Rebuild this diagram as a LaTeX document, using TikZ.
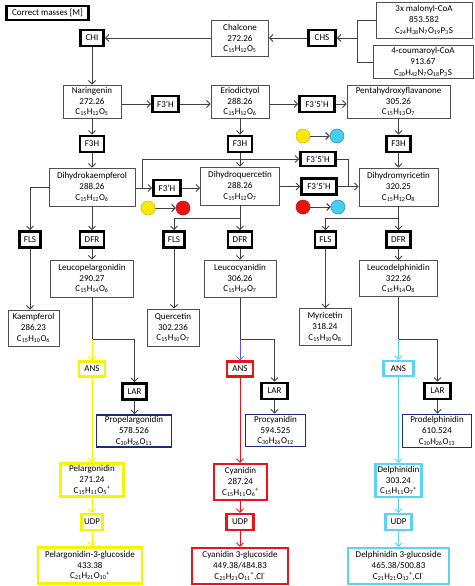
\documentclass[tikz,border=0pt]{standalone}
\usepackage{fontspec}
\setmainfont{Carlito}
\usetikzlibrary{arrows.meta}
\newcommand{\sbs}[1]{\textsubscript{#1}}
\newcommand{\sps}[1]{\textsuperscript{#1}}
\newcommand{\dfont}{\fontsize{9}{10.8}\selectfont}
\definecolor{linegray}{HTML}{404040}
\definecolor{boxgray}{HTML}{505050}
\definecolor{yel}{HTML}{F5F500}
\definecolor{redc}{HTML}{E8141B}
\definecolor{cyanc}{HTML}{5BD3F5}
\definecolor{navy}{HTML}{1C2A80}
\definecolor{purp}{HTML}{6A4CFF}
\definecolor{cyel}{HTML}{FFE800}
\definecolor{cred}{HTML}{EE1010}
\definecolor{ccyan}{HTML}{45CDF2}
\begin{document}
\begin{tikzpicture}[x=1pt,y=-1pt,
  mol/.style={draw=boxgray, line width=0.9pt, fill=white, align=center, inner sep=1pt, font=\dfont, minimum height=36pt},
  enz/.style={draw=black, line width=2.6pt, fill=white, align=center, inner sep=1pt, font=\dfont, minimum height=16pt},
  cenz/.style={line width=2.4pt, fill=white, align=center, inner sep=1pt, font=\dfont, minimum height=15pt},
  cmol/.style={line width=2.4pt, fill=white, align=center, inner sep=1pt, font=\dfont, minimum height=35pt},
  arr/.style={draw=linegray, line width=0.9pt, -{Straight Barb[length=3.5pt,width=7pt]}},
  ln/.style={draw=linegray, line width=0.9pt},
  dot/.style={circle, minimum size=14pt, inner sep=0pt, line width=0.5pt}]
\useasboundingbox (0,0) rectangle (474,586);

% header
\node[enz, minimum width=82pt, minimum height=14pt] (cm) at (47.5,13) {Correct masses [M]};

% top row
\node[enz, minimum width=23pt] (chi) at (92,38) {CHI};
\node[mol, minimum width=57pt] (chal) at (240,38.5) {Chalcone\\272.26\\C\sbs{15}H\sbs{12}O\sbs{5}};
\node[enz, minimum width=27pt] (chs) at (322,38) {CHS};
\node[mol, minimum width=96pt] (mal) at (424,20) {3x malonyl-CoA\\853.582\\C\sbs{24}H\sbs{38}N\sbs{7}O\sbs{19}P\sbs{3}S};
\node[mol, minimum width=100pt, minimum height=33pt] (cou) at (423,62) {4-coumaroyl-CoA\\913.67\\C\sbs{30}H\sbs{42}N\sbs{7}O\sbs{18}P\sbs{3}S};

% row 1
\node[mol, minimum width=58pt, minimum height=33pt] (nar) at (92,101.5) {Naringenin\\272.26\\C\sbs{15}H\sbs{12}O\sbs{5}};
\node[enz, minimum width=26pt] (fa) at (165.5,104) {F3’H};
\node[mol, minimum width=58pt, minimum height=33pt] (eri) at (240,101.5) {Eriodictyol\\288.26\\C\sbs{15}H\sbs{12}O\sbs{6}};
\node[enz, minimum width=35pt] (fb) at (317,104) {F3’5’H};
\node[mol, minimum width=103pt, minimum height=33pt] (pen) at (398.5,101.5) {Pentahydroxyflavanone\\305.26\\C\sbs{15}H\sbs{13}O\sbs{7}};

% row 2 enzymes
\node[enz, minimum width=24pt] (h1) at (92,144) {F3H};
\node[enz, minimum width=24pt] (h2) at (240,144) {F3H};
\node[enz, minimum width=24pt] (h3) at (398.5,144) {F3H};

% circles top
\node[dot, fill=cyel, draw=cyel!80!black] (y1) at (303,136) {};
\node[dot, fill=ccyan, draw=ccyan!70!black] (c1) at (337,136) {};

% row 2 molecules
\node[mol, minimum width=86pt, minimum height=38pt] (dhk) at (92,187) {Dihydrokaempferol\\288.26\\C\sbs{15}H\sbs{12}O\sbs{6}};
\node[enz, minimum width=27pt] (fc) at (167,188) {F3’H};
\node[mol, minimum width=79pt, minimum height=38pt] (dhq) at (240,186) {Dihydroquercetin\\288.26\\C\sbs{15}H\sbs{12}O\sbs{7}};
\node[enz, minimum width=35pt, minimum height=14pt] (fu) at (318,159) {F3’5’H};
\node[enz, minimum width=35pt] (fl) at (319,186.5) {F3’5’H};
\node[mol, minimum width=79pt, minimum height=38pt] (dhm) at (398.5,187) {Dihydromyricetin\\320.25\\C\sbs{15}H\sbs{12}O\sbs{8}};

% circles lower
\node[dot, fill=cyel, draw=cyel!80!black] (y2) at (148,208) {};
\node[dot, fill=cred, draw=cred!80!black] (r2) at (183,208) {};
\node[dot, fill=cred, draw=cred!80!black] (r3) at (303,207) {};
\node[dot, fill=ccyan, draw=ccyan!70!black] (c3) at (338,207) {};

% row 3 enzymes
\node[enz, minimum width=21pt] (fls1) at (30,239.5) {FLS};
\node[enz, minimum width=24pt] (dfr1) at (92,239.5) {DFR};
\node[enz, minimum width=21pt] (fls2) at (174,239.5) {FLS};
\node[enz, minimum width=24pt] (dfr2) at (240,239.5) {DFR};
\node[enz, minimum width=21pt] (fls3) at (325.5,239.5) {FLS};
\node[enz, minimum width=24pt] (dfr3) at (398.5,239.5) {DFR};

% row 4 molecules
\node[mol, minimum width=51pt] (kae) at (33.5,328) {Kaempferol\\286.23\\C\sbs{15}H\sbs{10}O\sbs{6}};
\node[mol, minimum width=83pt, minimum height=37pt] (lpe) at (92,278.5) {Leucopelargonidin\\290.27\\C\sbs{15}H\sbs{14}O\sbs{6}};
\node[mol, minimum width=52pt, minimum height=37pt] (que) at (173,327.5) {Quercetin\\302.236\\C\sbs{15}H\sbs{10}O\sbs{7}};
\node[mol, minimum width=72pt, minimum height=37pt] (lcy) at (240,278.5) {Leucocyanidin\\306.26\\C\sbs{15}H\sbs{14}O\sbs{7}};
\node[mol, minimum width=52pt, minimum height=37pt] (myr) at (325,327) {Myricetin\\318.24\\C\sbs{15}H\sbs{10}O\sbs{8}};
\node[mol, minimum width=78pt, minimum height=36pt] (lde) at (398.5,278.5) {Leucodelphinidin\\322.26\\C\sbs{15}H\sbs{14}O\sbs{8}};

% junctions
\coordinate (jA) at (92,339);
\coordinate (jB) at (240,339);
\coordinate (jC) at (398.5,339);

% lower left (yellow)
\node[cenz, draw=yel, minimum width=26pt] (ansA) at (92,369) {ANS};
\node[enz, minimum width=24pt] (larA) at (134.5,391.5) {LAR};
\node[cmol, draw=navy, line width=1.8pt, minimum width=75pt, minimum height=32pt] (pro1) at (134,431) {Propelargonidin\\578.526\\C\sbs{30}H\sbs{26}O\sbs{11}};
\node[cmol, draw=yel, minimum width=63pt, minimum height=33pt] (pel) at (92,480) {Pelargonidin\\271.24\\C\sbs{15}H\sbs{11}O\sbs{5}\sps{+}};
\node[cenz, draw=yel, minimum width=21pt, minimum height=16pt] (udpA) at (92,522) {UDP};
\node[cmol, draw=yel, minimum width=104pt, minimum height=36pt] (pg) at (90,565.5) {Pelargonidin-3-glucoside\\433.38\\C\sbs{21}H\sbs{21}O\sbs{10}\sps{+}};

% lower middle (red)
\node[cenz, draw=redc, minimum width=26pt] (ansB) at (240,369) {ANS};
\node[enz, minimum width=26pt] (larB) at (274.5,391) {LAR};
\node[cmol, draw=navy, line width=1.8pt, minimum width=60pt, minimum height=32pt] (pro2) at (275.5,430.5) {Procyanidin\\594.525\\C\sbs{30}H\sbs{26}O\sbs{12}};
\node[cmol, draw=redc, minimum width=53pt, minimum height=36pt] (cya) at (240.5,482) {Cyanidin\\287.24\\C\sbs{15}H\sbs{11}O\sbs{6}\sps{+}};
\node[cenz, draw=redc, minimum width=27pt, minimum height=16pt] (udpB) at (240,522) {UDP};
\node[cmol, draw=redc, minimum width=96pt, minimum height=36pt] (cg) at (240,566) {Cyanidin 3-glucoside\\449.38/484.83\\C\sbs{21}H\sbs{21}O\sbs{11}\sps{+},Cl\sps{-}};

% lower right (cyan)
\node[cenz, draw=cyanc, minimum width=30pt] (ansC) at (398.5,368.5) {ANS};
\node[enz, minimum width=26pt] (larC) at (437.5,391) {LAR};
\node[cmol, draw=navy, line width=1.8pt, minimum width=69pt, minimum height=33pt] (pro3) at (437,431) {Prodelphinidin\\610.524\\C\sbs{30}H\sbs{26}O\sbs{13}};
\node[cmol, draw=cyanc, minimum width=46pt, minimum height=33pt] (del) at (398.5,480.5) {Delphinidin\\303.24\\C\sbs{15}H\sbs{11}O\sbs{7}\sps{+}};
\node[cenz, draw=cyanc, minimum width=26pt, minimum height=16pt] (udpC) at (398.5,522) {UDP};
\node[cmol, draw=cyanc, minimum width=101pt, minimum height=36pt] (dg) at (398.5,566) {Delphinidin 3-glucoside\\465.38/500.83\\C\sbs{21}H\sbs{21}O\sbs{12}\sps{+},Cl\sps{-}};

% ---------- connectors ----------
\draw[arr] (chal.west |- chi) -- (chi.east);
\draw[arr] (chs.west) -- (chs.west -| chal.east);
\coordinate (br) at (357,38);
\draw[ln] (mal.west) -- (mal.west -| br) -- (cou.west -| br) -- (cou.west);
\draw[arr] (br) -- (chs.east);
\draw[arr] (chi.south) -- (chi.south |- nar.north);

\draw[arr] (fa.west -| nar.east) -- (fa.west);
\draw[arr] (fa.east) -- (fa.east -| eri.west);
\draw[arr] (fb.west -| eri.east) -- (fb.west);
\draw[arr] (fb.east) -- (fb.east -| pen.west);

\draw[arr] (nar.south) -- (h1.north);
\draw[arr] (h1.south) -- (h1.south |- dhk.north);
\draw[arr] (eri.south) -- (h2.north);
\draw[arr] (h2.south) -- (h2.south |- dhq.north);
\draw[arr] (pen.south) -- (h3.north);
\draw[arr] (h3.south) -- (h3.south |- dhm.north);

\draw[arr] (y1) -- (c1);
\draw[arr] (y2) -- (r2);
\draw[arr] (r3) -- (c3);

\coordinate (bk) at (142,188);
\draw[arr] (fc.west -| dhk.east) -- (fc.west);
\draw[arr] (fc.east) -- (fc.east -| dhq.west);
\draw[arr] (bk) -- (bk |- fu.west) -- (fu.west);
\draw[arr] (fl.west -| dhq.east) -- (fl.west);
\coordinate (mg) at (348,187);
\draw[ln] (fu.east) -- (fu.east -| mg) -- (mg);
\draw[arr] (fl.east) -- (fl.east -| dhm.west);

\coordinate (sB) at (240,218);
\coordinate (sC) at (398.5,218);
\draw[arr] (dhk.west) -| (fls1.north);
\draw[arr] (dhk.south) -- (dfr1.north);
\draw[arr] (dhq.south) -- (dfr2.north);
\draw[arr] (sB) -| (fls2.north);
\draw[arr] (dhm.south) -- (dfr3.north);
\draw[arr] (sC) -| (fls3.north);

\draw[arr] (fls1.south) -- (fls1.south |- kae.north);
\draw[arr] (dfr1.south) -- (dfr1.south |- lpe.north);
\draw[arr] (fls2.south) -- (fls2.south |- que.north);
\draw[arr] (dfr2.south) -- (dfr2.south |- lcy.north);
\draw[arr] (fls3.south) -- (fls3.south |- myr.north);
\draw[arr] (dfr3.south) -- (dfr3.south |- lde.north);

% left lower
\draw[ln] (lpe.south) -- (jA);
\draw[arr] (jA) -| (larA.north);
\draw[arr, draw=yel] (jA) -- (ansA.north);
\draw[arr, draw=yel] (ansA.south) -- (pel.north);
\draw[arr, draw=yel] (pel.south) -- (udpA.north);
\draw[arr, draw=yel] (udpA.south) -- (udpA.south |- pg.north);
\draw[arr] (larA.south) -- (larA.south |- pro1.north);

% middle lower
\draw[ln] (lcy.south) -- (jB);
\draw[arr] (jB) -| (larB.north);
\draw[arr, draw=purp, line width=0.7pt] (jB) -- (ansB.north);
\draw[arr, draw=redc] (ansB.south) -- (ansB.south |- cya.north);
\draw[arr, draw=redc] (cya.south -| udpB) -- (udpB.north);
\draw[arr, draw=redc] (udpB.south) -- (udpB.south |- cg.north);
\draw[arr] (larB.south) -- (larB.south |- pro2.north);

% right lower
\draw[ln] (lde.south) -- (jC);
\draw[arr] (jC) -| (larC.north);
\draw[arr, draw=cyanc] (jC) -- (ansC.north);
\draw[arr, draw=cyanc] (ansC.south) -- (del.north);
\draw[arr, draw=cyanc] (del.south) -- (udpC.north);
\draw[arr, draw=cyanc] (udpC.south) -- (dg.north);
\draw[arr] (larC.south) -- (larC.south |- pro3.north);
\end{tikzpicture}
\end{document}
